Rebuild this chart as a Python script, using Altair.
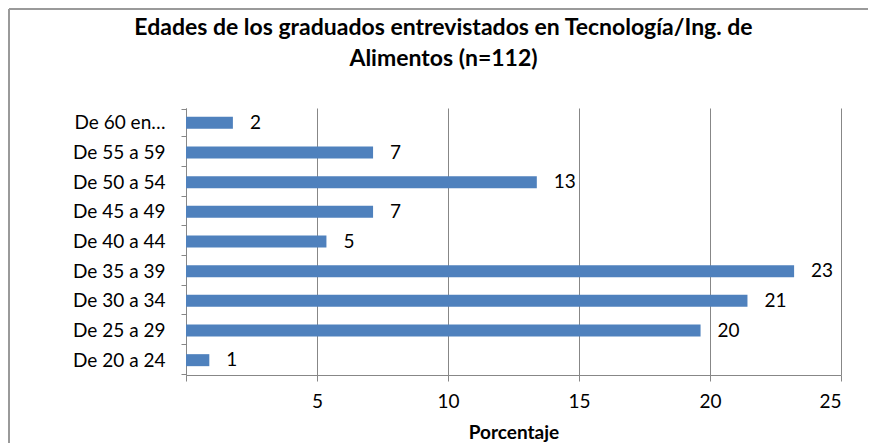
import altair as alt
import pandas as pd

categories = ["De 20 a 24", "De 25 a 29", "De 30 a 34", "De 35 a 39", "De 40 a 44",
              "De 45 a 49", "De 50 a 54", "De 55 a 59", "De 60 en…"]
values = [0.89, 19.64, 21.43, 23.21, 5.36, 7.14, 13.39, 7.14, 1.79]
x_ticks = [0, 5, 10, 15, 20, 25]

df = pd.DataFrame({"edad": categories, "pct": values})
order = categories[::-1]
FONT = "Lato"
GRAY = "#878787"
FS = 19

y_enc = alt.Y("edad:N", sort=order, title=None,
              axis=alt.Axis(tickBand="extent", ticks=True, tickSize=5, tickColor=GRAY,
                            domainColor=GRAY, labelFontSize=FS, labelFont=FONT,
                            labelColor="#000", labelPadding=16, grid=False, labelLimit=200))

x_enc = alt.X("pct:Q", scale=alt.Scale(domain=[0, 25], nice=False), title="Porcentaje",
              axis=alt.Axis(values=x_ticks, grid=True, gridColor=GRAY, domainColor=GRAY,
                            tickColor=GRAY, tickSize=6, labelFontSize=FS, labelFont=FONT,
                            labelColor="#000", labelPadding=11,
                            labelExpr="datum.value == 0 ? '' : datum.label",
                            titleFont=FONT, titleFontSize=19, titleFontWeight="bold",
                            titleColor="#000", titlePadding=12))

one = pd.DataFrame({"a": [0]})
frame_top = alt.Chart(one).mark_rule(color="#9a9a9a", strokeWidth=2).encode(
    x=alt.value(-177), x2=alt.value(700), y=alt.value(-99))
frame_left = alt.Chart(one).mark_rule(color="#9a9a9a", strokeWidth=2).encode(
    x=alt.value(-177), y=alt.value(-99), y2=alt.value(400))

bars = alt.Chart(df).mark_bar(color="#4F81BD", size=12).encode(x=x_enc, y=y_enc)
labels = alt.Chart(df).mark_text(align="left", dx=17, fontSize=FS, font=FONT, color="#000").encode(
    x="pct:Q", y=alt.Y("edad:N", sort=order), text=alt.Text("pct:Q", format=".0f"))

chart = alt.layer(frame_top, frame_left, bars, labels).properties(
    width=655, height=267,
    autosize=alt.AutoSizeParams(type="none"),
    padding={"left": 178, "top": 100, "right": 27, "bottom": 68},
    title=alt.TitleParams(
        ["Edades de los graduados entrevistados en Tecnología/Ing. de", "Alimentos (n=112)"],
        font=FONT, fontSize=23, fontWeight="bold", color="#000", anchor="middle",
        dx=-70, offset=-63, lineHeight=31),
).configure_view(stroke=None)

chart.save("out.html", embed_options={"renderer": "svg", "actions": False})
